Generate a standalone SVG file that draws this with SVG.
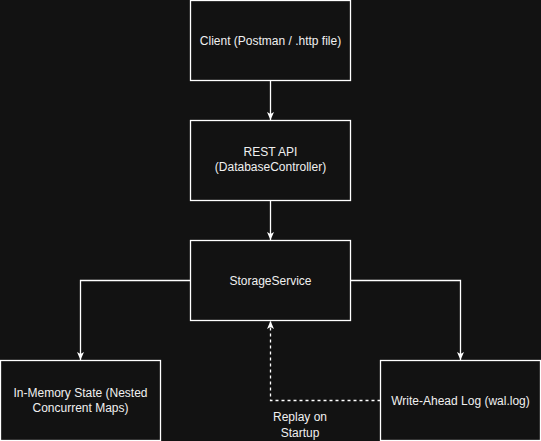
<svg xmlns="http://www.w3.org/2000/svg" width="541" height="441" viewBox="0 0 541 441">
<defs>
<style>
.node rect{fill:#121212;stroke:#ffffff;stroke-width:1.3}
text{font-family:"Liberation Sans",Arial,sans-serif;font-size:12px;fill:#f0f0f0;text-anchor:middle}
.edge{fill:none;stroke:#ffffff;stroke-width:1.3}
.dash{stroke-dasharray:3,3}
</style>
<marker id="arr" viewBox="0 0 8 8" refX="8" refY="4" markerWidth="8" markerHeight="8" markerUnits="userSpaceOnUse" orient="auto">
<path d="M8,4 L0,0.5 L2,4 L0,7.5 Z" fill="#ffffff"/>
</marker>
</defs>
<rect width="541" height="441" fill="#121212"/>
<g id="connectors">
<path class="edge" d="M270.5,80.5 L270.5,120" marker-end="url(#arr)"/>
<path class="edge" d="M270.5,200.5 L270.5,240" marker-end="url(#arr)"/>
<path class="edge" d="M190.5,280.5 L80.5,280.5 L80.5,360" marker-end="url(#arr)"/>
<path class="edge" d="M350.5,280.5 L460.5,280.5 L460.5,360" marker-end="url(#arr)"/>
<path class="edge dash" d="M380.5,400.5 L270.5,400.5 L270.5,321" marker-end="url(#arr)"/>
<text x="300" y="421">Replay on</text>
<text x="300" y="437">Startup</text>
</g>
<g id="client" class="node">
<rect x="190.5" y="0.5" width="160" height="80"/>
<text x="270.5" y="44.5">Client (Postman / .http file)</text>
</g>
<g id="restapi" class="node">
<rect x="190.5" y="120.5" width="160" height="80"/>
<text x="270.5" y="156">REST API</text>
<text x="270.5" y="171">(DatabaseController)</text>
</g>
<g id="storage" class="node">
<rect x="190.5" y="240.5" width="160" height="80"/>
<text x="270.5" y="284.5">StorageService</text>
</g>
<g id="memory" class="node">
<rect x="0.5" y="360.5" width="160" height="80"/>
<text x="80.5" y="397">In-Memory State (Nested</text>
<text x="80.5" y="412">Concurrent Maps)</text>
</g>
<g id="wal" class="node">
<rect x="380.5" y="360.5" width="160" height="80"/>
<text x="460.5" y="404.5">Write-Ahead Log (wal.log)</text>
</g>
</svg>
